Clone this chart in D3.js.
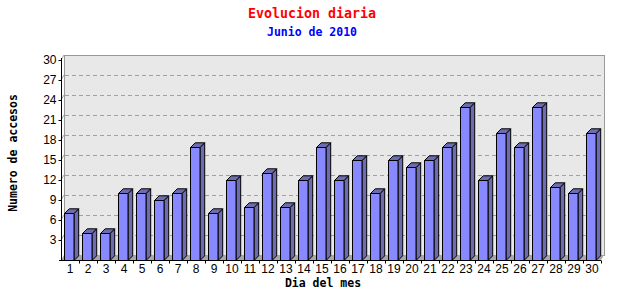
<!DOCTYPE html>
<html>
<head>
<meta charset="utf-8">
<script src="https://cdn.jsdelivr.net/npm/d3@7"></script>
<style>
  body { margin: 0; background: #fff; }
  svg { display: block; }
</style>
</head>
<body>
<script>
// daily visits, June 2010
const days = ["1","2","3","4","5","6","7","8","9","10","11","12","13","14","15",
  "16","17","18","19","20","21","22","23","24","25","26","27","28","29","30"];
const visits = [7,4,4,10,10,9,10,17,7,12,8,13,8,12,17,12,15,10,15,14,15,17,23,12,19,17,23,11,10,19];
const yTicks = [3,6,9,12,15,18,21,24,27,30];

const width = 640, height = 300;
const plotLeft = 61, plotRight = 601, plotTop = 60, plotBottom = 260;
const dx = 3, dy = 5;      // offset of the back wall
const bdx = 4.7, bdy = 4.7; // bar depth

const svg = d3.select("body").append("svg")
  .attr("width", width)
  .attr("height", height);

const x = d3.scaleBand().domain(days).range([plotLeft, plotRight]).padding(0);
const y = d3.scaleLinear().domain([0, 30]).range([plotBottom, plotTop]);

// back wall
svg.append("rect")
  .attr("x", plotLeft + dx + 0.5)
  .attr("y", plotTop - dy + 0.5)
  .attr("width", plotRight - plotLeft - 0.5)
  .attr("height", plotBottom - plotTop)
  .attr("fill", "#e8e8e8")
  .attr("stroke", "#999")
  .attr("shape-rendering", "crispEdges");

// floor
svg.append("path")
  .attr("d", `M${plotLeft},${plotBottom}L${plotRight},${plotBottom}L${plotRight + dx},${plotBottom - dy}L${plotLeft + dx},${plotBottom - dy}Z`)
  .attr("fill", "#a8a8a8");

// grid lines on the back wall
const grid = svg.append("g");
yTicks.filter(d => d < 30).forEach(d => {
  grid.append("line")
    .attr("x1", plotLeft + dx + 1).attr("x2", plotRight + dx)
    .attr("y1", Math.round(y(d) - dy) + 0.5).attr("y2", Math.round(y(d) - dy) + 0.5)
    .attr("stroke", "#a0a0a0")
    .attr("stroke-dasharray", "4,3")
    .attr("shape-rendering", "crispEdges");
});
yTicks.forEach(d => {
  grid.append("line")
    .attr("x1", plotLeft).attr("x2", plotLeft + dx)
    .attr("y1", y(d)).attr("y2", y(d) - dy)
    .attr("stroke", "#a0a0a0");
});

// bars
const bars = svg.append("g").attr("stroke", "#000").attr("stroke-width", 1)
  .attr("stroke-linejoin", "round");
days.forEach((d, i) => {
  const x0 = x(d) + 3.5, w = 9.5;
  const yt = Math.round(y(visits[i])) + 0.5, yb = plotBottom + 0.5;
  // side
  bars.append("path")
    .attr("d", `M${x0 + w},${yb}L${x0 + w},${yt}L${x0 + w + bdx},${yt - bdy}L${x0 + w + bdx},${yb - bdy}Z`)
    .attr("fill", "#6c6cae");
  // top
  bars.append("path")
    .attr("d", `M${x0},${yt}L${x0 + w},${yt}L${x0 + w + bdx},${yt - bdy}L${x0 + bdx},${yt - bdy}Z`)
    .attr("fill", "#6c6cae");
  // front
  bars.append("rect")
    .attr("x", x0).attr("y", yt)
    .attr("width", w).attr("height", yb - yt)
    .attr("fill", "#8888ff");
});

// y axis
const yAxis = svg.append("g")
  .attr("transform", `translate(${plotLeft + 0.5},0)`)
  .call(d3.axisLeft(y).tickValues(yTicks).tickSize(3).tickPadding(2).tickSizeOuter(0));
yAxis.select(".domain").attr("d", `M0,${plotTop - 2}V${plotBottom}`);
yAxis.selectAll("text")
  .attr("font-family", "Liberation Sans, Arial, sans-serif")
  .attr("font-size", 12)
  .attr("fill", "#000");

// x axis
const xAxis = svg.append("g")
  .attr("transform", `translate(0,${plotBottom + 0.5})`)
  .call(d3.axisBottom(x).tickSize(0).tickPadding(4).tickSizeOuter(0));
xAxis.select(".domain").attr("d", `M${plotLeft - 2},0H${plotRight}`);
xAxis.selectAll("text")
  .attr("font-family", "Liberation Sans, Arial, sans-serif")
  .attr("font-size", 12)
  .attr("fill", "#000");
days.forEach(d => {
  xAxis.append("line")
    .attr("x1", Math.round(x(d) + x.bandwidth()) + 0.5)
    .attr("x2", Math.round(x(d) + x.bandwidth()) + 0.5)
    .attr("y1", 0).attr("y2", 3)
    .attr("stroke", "#000");
});

// titles
const mono = "DejaVu Sans Mono, monospace";
svg.append("text")
  .attr("x", 312).attr("y", 18)
  .attr("text-anchor", "middle")
  .attr("font-family", mono).attr("font-size", 13.3).attr("font-weight", "bold")
  .attr("fill", "#ff0000")
  .text("Evolucion diaria");

svg.append("text")
  .attr("x", 312).attr("y", 36)
  .attr("text-anchor", "middle")
  .attr("font-family", mono).attr("font-size", 11.5).attr("font-weight", "bold")
  .attr("fill", "#0000ff")
  .text("Junio de 2010");

svg.append("text")
  .attr("x", 323).attr("y", 287)
  .attr("text-anchor", "middle")
  .attr("font-family", mono).attr("font-size", 11.5).attr("font-weight", "bold")
  .attr("fill", "#000")
  .text("Dia del mes");

svg.append("text")
  .attr("transform", "translate(17,153) rotate(-90)")
  .attr("text-anchor", "middle")
  .attr("font-family", mono).attr("font-size", 11.5).attr("font-weight", "bold")
  .attr("fill", "#000")
  .text("Numero de accesos");
</script>
</body>
</html>
